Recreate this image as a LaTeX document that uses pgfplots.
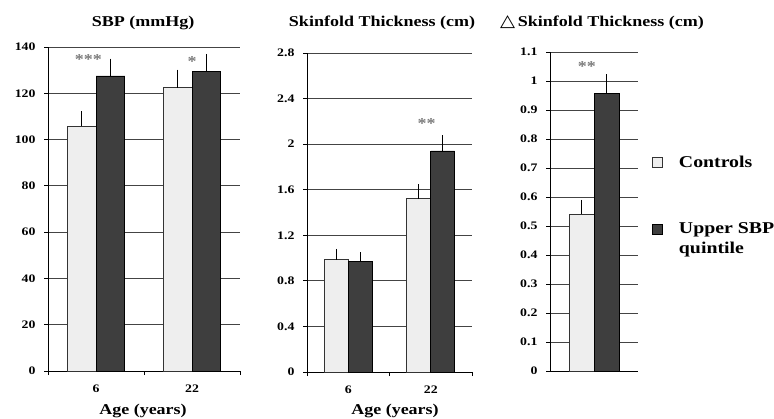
\documentclass[border=0pt]{standalone}
\usepackage{pgfplots}
\pgfplotsset{compat=1.18}
\usepackage{fontspec}
\setmainfont[FakeStretch=1.2]{Liberation Serif}
\newfontfamily\dejavu[FakeStretch=1.15]{DejaVu Sans}
\definecolor{lightbar}{HTML}{EEEEEE}
\definecolor{darkbar}{HTML}{3E3E3E}
\definecolor{gridc}{HTML}{444444}
\definecolor{starc}{HTML}{7A7A7A}
\pgfdeclareplotmark{halfcap}{%
  \pgfpathmoveto{\pgfpoint{0pt}{0pt}}%
  \pgfpathlineto{\pgfpoint{-\pgfplotmarksize}{0pt}}%
  \pgfusepathqstroke}
\tikzset{starnode/.style={font=\fontsize{15}{15}\selectfont\bfseries, text=starc, inner sep=0pt}}
\pgfplotsset{
  panel/.style={
    scale only axis,
    anchor=south west,
    axis lines=left,
    axis line style={-, black, line width=0.9pt},
    ybar=0pt,
    ymajorgrids,
    grid style={gridc, line width=0.9pt},
    tick style={black, line width=0.8pt},
    major tick length=4pt,
    tick align=outside,
    ymin=0,
    xmin=-0.5, xmax=1.5,
    ticklabel style={font=\fontsize{11.5}{13}\selectfont\bfseries},
    yticklabel style={xshift=-5pt},
    /pgf/number format/assume math mode=true,
    xtick={-0.5,0.5,1.5},
    xticklabels={},
    extra x ticks={0,1},
    extra x tick labels={6,22},
    extra x tick style={major tick length=0pt, xticklabel style={yshift=-10pt}},
    clip=false,
  },
  ctrl/.style={fill=lightbar, draw=black!80, line width=0.8pt,
    error bars/.cd, y dir=plus, y explicit,
    error bar style={black, line width=0.9pt},
    error mark=halfcap, error mark options={mark size=4.5pt, line width=0.9pt}},
  upper/.style={fill=darkbar, draw=black, line width=0.8pt,
    error bars/.cd, y dir=plus, y explicit,
    error bar style={black, line width=0.9pt},
    error mark=halfcap, error mark options={mark size=4.5pt, line width=0.9pt}},
  uplegend/.style={legend image code/.code={\draw[##1, line width=0.7pt] (0pt,5pt) rectangle (10pt,15pt);}},
}
\begin{document}
\begin{tikzpicture}
\useasboundingbox (0,0) rectangle (774pt,418pt);
% Panel 1: SBP
\begin{axis}[panel, at={(48pt,47pt)}, width=192pt, height=324pt,
  ymax=140, ytick={0,20,40,60,80,100,120,140}, bar width=0.3]
\addplot[ctrl] coordinates {(0,105.8) +- (0,5.4) (1,122.4) +- (0,6.8)};
\addplot[upper] coordinates {(0,127.5) +- (0,6.5) (1,129.5) +- (0,6.6)};
\node[starnode] at (axis cs:-0.08,134.5) {***};
\node[starnode] at (axis cs:1,133.8) {*};
\end{axis}
% Panel 2: Skinfold thickness
\begin{axis}[panel, at={(307pt,46pt)}, width=165pt, height=319pt,
  ymax=2.8, ytick={0,0.4,0.8,1.2,1.6,2,2.4,2.8},
  yticklabels={0,0.4,0.8,1.2,1.6,2,2.4,2.8}, bar width=0.29]
\addplot[ctrl] coordinates {(0,0.986) +- (0,0.074) (1,1.52) +- (0,0.11)};
\addplot[upper] coordinates {(0,0.971) +- (0,0.059) (1,1.94) +- (0,0.12)};
\node[starnode] at (axis cs:0.95,2.18) {**};
\end{axis}
% Panel 3: change in skinfold thickness
\begin{axis}[panel, at={(550pt,47pt)}, width=88pt, height=319pt,
  xmin=-0.5, xmax=0.5, xtick=\empty, extra x ticks={},
  ymax=1.1, ytick={0,0.1,0.2,0.3,0.4,0.5,0.6,0.7,0.8,0.9,1,1.1},
  yticklabels={0,0.1,0.2,0.3,0.4,0.5,0.6,0.7,0.8,0.9,1,1.1}, bar width=0.285,
  legend style={at={(1.16,0.681)}, anchor=north west, draw=none, fill=none,
    font=\fontsize{16.5}{20}\selectfont\bfseries, row sep=50pt,
    cells={anchor=west, align=left}, inner sep=0pt,
    /tikz/every odd column/.append style={column sep=14pt}},
  legend image code/.code={\draw[#1, line width=0.7pt] (0pt,-5pt) rectangle (10pt,5pt);},
  legend cell align=left]
\addplot[ctrl] coordinates {(0,0.541) +- (0,0.041)};
\addlegendentry{Controls}
\addplot[uplegend, upper] coordinates {(0,0.958) +- (0,0.058)};
\addlegendentry{Upper SBP\\quintile}
\node[starnode] at (axis cs:-0.08,1.05) {**};
\end{axis}
% titles and labels
\node[font=\fontsize{15}{18}\selectfont\bfseries] at (143pt,395pt) {SBP (mmHg)};
\node[font=\fontsize{15}{18}\selectfont\bfseries] at (382pt,395pt) {Skinfold Thickness (cm)};
\node[font=\fontsize{15}{18}\selectfont\bfseries] at (602pt,395pt) {{\dejavu\bfseries\fontsize{17}{18}\selectfont △}\,Skinfold Thickness (cm)};
\node[font=\fontsize{15}{18}\selectfont\bfseries, anchor=base] at (143pt,4pt) {Age (years)};
\node[font=\fontsize{15}{18}\selectfont\bfseries, anchor=base] at (395pt,4pt) {Age (years)};
\end{tikzpicture}
\end{document}
